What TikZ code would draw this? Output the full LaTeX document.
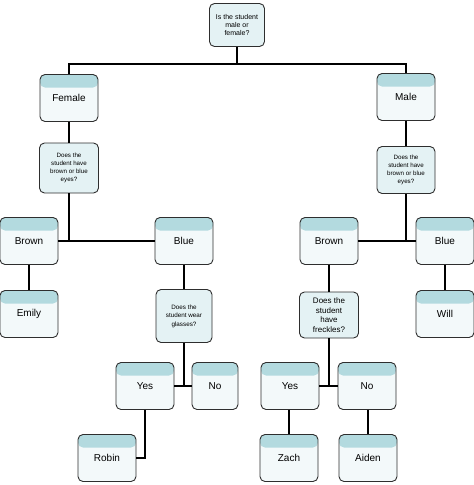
\documentclass[tikz,border=0pt]{standalone}
\usepackage{fontspec}
\setmainfont{Liberation Sans}
\definecolor{band}{HTML}{B3DADF}
\definecolor{body}{HTML}{F3F9FA}
\definecolor{qfill}{HTML}{E4F2F4}
\definecolor{edge}{HTML}{2E2E2E}
\begin{document}
\begin{tikzpicture}[x=1pt,y=-1pt,
  box/.style={draw=edge, line width=0.9pt, rounded corners=5pt, fill=body,
    minimum width=58pt, minimum height=47pt, inner sep=1pt, align=center,
    font=\fontsize{10}{12}\selectfont,
    path picture={\fill[band] (path picture bounding box.north west) rectangle ([yshift=-13pt]path picture bounding box.north east);}},
  qbox/.style={draw=edge, line width=0.9pt, rounded corners=5pt, fill=qfill,
    inner sep=1pt, align=center},
  link/.style={line width=2.4pt, black}]
\useasboundingbox (0,0) rectangle (474,485);
% nodes
\node[qbox, minimum width=55pt, minimum height=43pt, font=\fontsize{7}{8}\selectfont] (q0) at (237,25) {Is the student\\male or\\female?};
\node[box] (female) at (69,98) {Female};
\node[box] (male) at (406,97) {Male};
\node[qbox, minimum width=59pt, minimum height=50pt, font=\fontsize{6.2}{8}\selectfont] (q1) at (69,168) {Does the\\student have\\brown or blue\\eyes?};
\node[qbox, minimum width=58pt, minimum height=47pt, font=\fontsize{6.2}{8}\selectfont] (q2) at (406,170) {Does the\\student have\\brown or blue\\eyes?};
\node[box] (brownL) at (29,241) {Brown};
\node[box] (blueL) at (184,241) {Blue};
\node[box] (brownR) at (329,241) {Brown};
\node[box] (blueR) at (445,241) {Blue};
\node[box] (emily) at (29,314) {Emily};
\node[box] (will) at (445,314) {Will};
\node[qbox, minimum width=56pt, minimum height=53pt, font=\fontsize{6.3}{8.5}\selectfont] (q3) at (184,316) {Does the\\student wear\\glasses?};
\node[qbox, minimum width=59pt, minimum height=46pt, font=\fontsize{8}{9.5}\selectfont] (q4) at (329,315) {Does the\\student\\have\\freckles?};
\node[box] (yesL) at (145,386) {Yes};
\node[box, minimum width=46pt] (noL) at (215,386) {No};
\node[box] (yesR) at (290,386) {Yes};
\node[box] (noR) at (367,386) {No};
\node[box] (robin) at (107,458) {Robin};
\node[box] (zach) at (289,458) {Zach};
\node[box] (aiden) at (368,458) {Aiden};
% connectors
\coordinate (j0) at (237,64);
\draw[link] (q0.south) -- (j0);
\draw[link] (female.north) |- (j0) -| (male.north);
\draw[link] (female) -- (q1);
\draw[link] (male) -- (q2);
\draw[link] (q1.south) -- (q1.south |- brownL.east);
\draw[link] (brownL.east) -- (blueL.west);
\draw[link] (q2.south) -- (q2.south |- brownR.east);
\draw[link] (brownR.east) -- (blueR.west);
\draw[link] (brownL) -- (emily);
\draw[link] (blueL) -- (q3);
\draw[link] (blueR) -- (will);
\draw[link] (brownR) -- (q4);
\draw[link] (q3.south) -- (q3.south |- yesL.east);
\draw[link] (yesL.east) -- (noL.west);
\draw[link] (q4.south) -- (q4.south |- yesR.east);
\draw[link] (yesR.east) -- (noR.west);
\draw[link] (yesL.south) |- (robin.east);
\draw[link] (yesR.south -| zach.north) -- (zach.north);
\draw[link] (noR.south -| aiden.north) -- (aiden.north);
\end{tikzpicture}
\end{document}
